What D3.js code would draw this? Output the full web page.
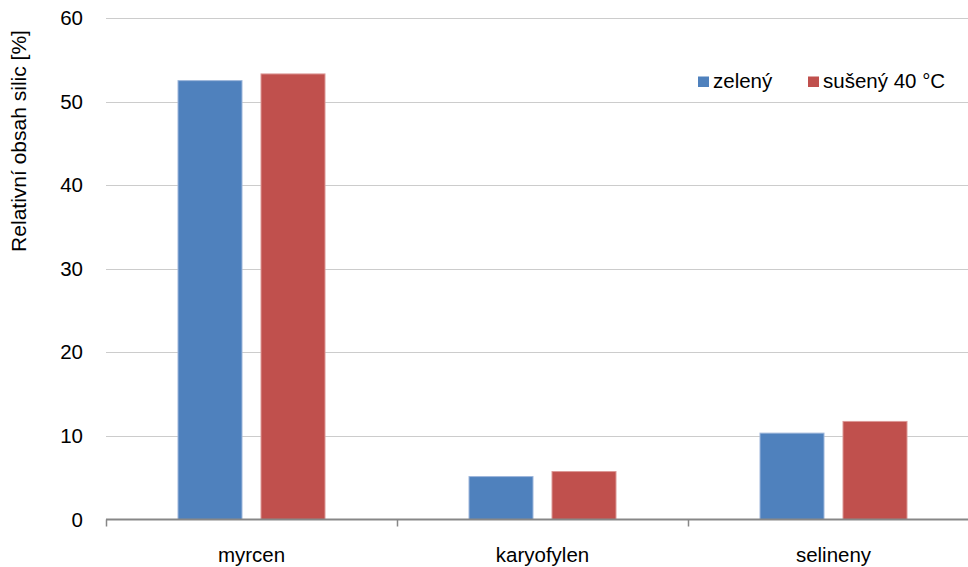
<!DOCTYPE html>
<html>
<head>
<meta charset="utf-8">
<script src="https://cdn.jsdelivr.net/npm/d3@7"></script>
<style>
  html, body { margin: 0; padding: 0; background: #fff; }
  svg { display: block; font-family: "Liberation Sans", Arial, sans-serif; }
</style>
</head>
<body>
<svg id="chart" width="968" height="567"></svg>
<script>
// Relative essential-oil content per compound, fresh vs. dried at 40 °C
const categories = ["myrcen", "karyofylen", "selineny"];
const seriesNames = ["zelený", "sušený 40 °C"];
const zeleny = [52.6, 5.2, 10.4];
const suseny = [53.4, 5.8, 11.8];
const yTicks = [0, 10, 20, 30, 40, 50, 60];
const colors = ["#4F81BD", "#C0504D"];
const strokes = ["#9db6db", "#dc9896"];

const values = [zeleny, suseny];
const svg = d3.select("#chart");

const plot = { left: 106, right: 979, top: 18.3, bottom: 519.5 };

const x = d3.scaleBand().domain(categories).range([plot.left, plot.right]).padding(0);
const groupPad = 71.5;
const xs = d3.scaleBand().domain(d3.range(seriesNames.length))
  .range([groupPad, x.bandwidth() - groupPad])
  .paddingInner(2 - 148 / 83)
  .paddingOuter(0);
const y = d3.scaleLinear().domain([0, 60]).range([plot.bottom, plot.top]);

// horizontal gridlines
svg.append("g")
  .selectAll("line")
  .data(yTicks.filter(d => d > 0))
  .join("line")
  .attr("x1", plot.left)
  .attr("x2", plot.right)
  .attr("y1", d => Math.round(y(d)) + 0.5)
  .attr("y2", d => Math.round(y(d)) + 0.5)
  .attr("stroke", "#cccccc")
  .attr("stroke-width", 1.2);

// y axis labels (no axis line)
const yAxis = svg.append("g")
  .attr("transform", `translate(${plot.left},0)`)
  .call(d3.axisLeft(y).tickValues(yTicks).tickSize(0).tickPadding(23).tickFormat(d3.format("d")));
yAxis.select(".domain").remove();
yAxis.selectAll("text")
  .attr("font-size", 20.5)
  .attr("font-family", "Liberation Sans, Arial, sans-serif")
  .attr("fill", "#000");

// bars
const groups = svg.append("g")
  .selectAll("g")
  .data(categories)
  .join("g")
  .attr("transform", d => `translate(${x(d)},0)`);

groups.selectAll("rect")
  .data((c, i) => values.map((s, k) => ({ k, v: s[i] })))
  .join("rect")
  .attr("x", d => xs(d.k) + 0.5)
  .attr("width", xs.bandwidth() - 1)
  .attr("y", d => y(d.v) + 0.5)
  .attr("height", d => y(0) - y(d.v) - 0.5)
  .attr("fill", d => colors[d.k])
  .attr("stroke", d => strokes[d.k])
  .attr("stroke-width", 1);

// x axis
const xAxis = svg.append("g")
  .attr("transform", `translate(0,${plot.bottom})`)
  .call(d3.axisBottom(x).tickSize(0).tickPadding(28));
xAxis.select(".domain").remove();
xAxis.selectAll("text")
  .attr("font-size", 20.5)
  .attr("font-family", "Liberation Sans, Arial, sans-serif")
  .attr("fill", "#000");

svg.append("line")
  .attr("x1", plot.left).attr("x2", plot.right)
  .attr("y1", plot.bottom).attr("y2", plot.bottom)
  .attr("stroke", "#878787").attr("stroke-width", 2);

// category boundary ticks
svg.append("g")
  .selectAll("line")
  .data(categories)
  .join("line")
  .attr("x1", d => x(d) + 0.5)
  .attr("x2", d => x(d) + 0.5)
  .attr("y1", plot.bottom)
  .attr("y2", plot.bottom + 7)
  .attr("stroke", "#878787")
  .attr("stroke-width", 1.5);

// y axis title
svg.append("text")
  .attr("transform", "translate(26,141) rotate(-90)")
  .attr("text-anchor", "middle")
  .attr("font-size", 21)
  .attr("fill", "#000")
  .text("Relativní obsah silic [%]");

// legend
const legendPos = [698, 808];
const legend = svg.append("g")
  .selectAll("g")
  .data(seriesNames)
  .join("g")
  .attr("transform", (d, i) => `translate(${legendPos[i]},0)`);
legend.append("rect")
  .attr("x", 0).attr("y", 76.5)
  .attr("width", 11).attr("height", 10.5)
  .attr("fill", (d, i) => colors[i]);
legend.append("text")
  .attr("x", 15).attr("y", 87.5)
  .attr("font-size", 20.5)
  .attr("fill", "#000")
  .text(d => d);
</script>
</body>
</html>
